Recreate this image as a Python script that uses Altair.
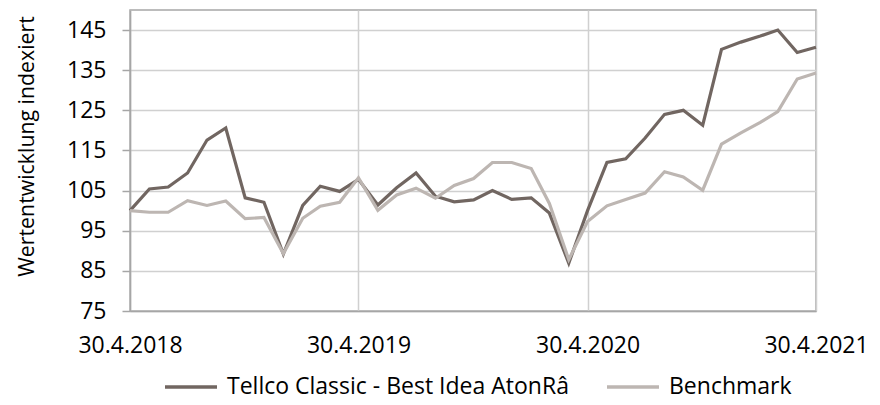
import altair as alt
import pandas as pd

dates = [d.strftime("%Y-%m-%d") for d in pd.date_range("2018-04-30", "2021-04-30", freq="ME")]

tellco = [100, 105.4, 105.9, 109.4, 117.6, 120.6, 103.2, 102.1, 89.2, 101.3, 106.1, 104.8,
          107.8, 101.4, 105.7, 109.4, 103.6, 102.2, 102.7, 105.0, 102.8, 103.2, 99.4, 86.9,
          100.0, 112.0, 112.9, 118.1, 124.0, 125.0, 121.3, 140.2, 142.0, 143.5, 145.0, 139.4, 140.7]

bench = [100, 99.6, 99.6, 102.5, 101.3, 102.4, 98.0, 98.3, 89.3, 98.1, 101.1, 102.1,
         108.2, 100.1, 103.9, 105.6, 103.1, 106.3, 108.0, 112.0, 112.0, 110.5, 101.8, 87.8,
         97.3, 101.2, 102.8, 104.4, 109.7, 108.4, 105.1, 116.6, 119.4, 122.0, 124.7, 132.8, 134.3]

series_names = ["Tellco Classic - Best Idea AtonRâ", "Benchmark"]
series_colors = ["#716661", "#bdb6b2"]
y_ticks = [75, 85, 95, 105, 115, 125, 135, 145]
x_ticks = ["2018-04-30", "2019-04-30", "2020-04-30", "2021-04-30"]

rows = []
for d, v in zip(dates, tellco):
    rows.append({"date": d, "value": v, "series": series_names[0]})
for d, v in zip(dates, bench):
    rows.append({"date": d, "value": v, "series": series_names[1]})
df = pd.DataFrame(rows)

FONT = "Open Sans"

x_tick_dt = [alt.DateTime(year=int(t[:4]), month=int(t[5:7]), date=int(t[8:10])) for t in x_ticks]

chart = alt.Chart(df).mark_line(strokeWidth=3.2, strokeJoin="miter").encode(
    x=alt.X("date:T",
            scale=alt.Scale(domain=[x_tick_dt[0], x_tick_dt[-1]], nice=False),
            axis=alt.Axis(values=x_tick_dt, labelExpr="timeFormat(datum.value, '%-d.%-m.%Y')",
                          title=None, grid=True, gridColor="#d0d0d0", gridWidth=1.5,
                          ticks=False, domainColor="#a6a6a6", domainWidth=1.5,
                          labelFont=FONT, labelFontSize=23, labelColor="#000000",
                          labelPadding=23, labelFlush=False, labelOverlap=False)),
    y=alt.Y("value:Q",
            scale=alt.Scale(domain=[75, 150], nice=False, zero=False),
            axis=alt.Axis(values=y_ticks, title="Wertentwicklung indexiert",
                          grid=True, gridColor="#d0d0d0", gridWidth=1.5,
                          tickSize=8, tickColor="#a6a6a6", tickWidth=1.5,
                          domainColor="#a6a6a6", domainWidth=1.5,
                          labelFont=FONT, labelFontSize=23, labelColor="#000000",
                          labelPadding=16,
                          titleFont=FONT, titleFontSize=21.3, titleFontWeight="normal",
                          titleColor="#000000", titleAngle=270, titleX=-103, titleY=136,
                          titleAlign="center", titleBaseline="middle")),
    color=alt.Color("series:N",
                    scale=alt.Scale(domain=series_names, range=series_colors),
                    legend=alt.Legend(title=None, orient="none", legendX=33, legendY=349,
                                      direction="horizontal", symbolType="stroke",
                                      symbolSize=2704, symbolStrokeWidth=3.5,
                                      labelFont=FONT, labelFontSize=23, labelColor="#000000",
                                      labelOffset=8, columnPadding=31, labelLimit=500)),
    order=alt.Order("series:N", sort="descending"),
).properties(
    width=686, height=301,
    autosize=alt.AutoSizeParams(type="none"),
    padding={"left": 122, "top": 2, "right": 56, "bottom": 92},
).configure_view(stroke="#a6a6a6", strokeWidth=1.5)

chart.save("out.html", embed_options={"renderer": "svg", "actions": False})
